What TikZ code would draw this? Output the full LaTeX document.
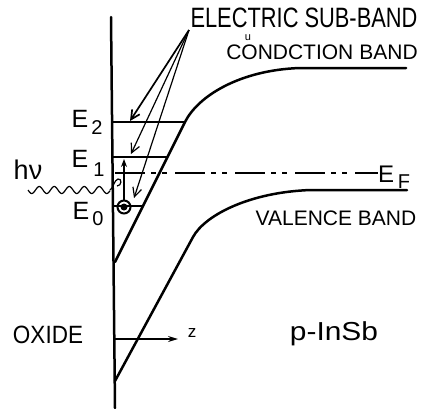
\documentclass[tikz,border=0pt]{standalone}
\usepackage{graphicx}
\usepackage{fontspec}
\setmainfont{Liberation Sans}
\usetikzlibrary{arrows.meta}
\begin{document}
\begin{tikzpicture}[x=1pt,y=-1pt,
  band/.style={line width=2.5pt, line cap=round},
  level/.style={line width=1.9pt},
  thinline/.style={line width=1.2pt},
  barb/.style={-{Straight Barb[length=9pt,width=9pt]}},
  lbl/.style={inner sep=0pt, font=\fontsize{21}{21}\selectfont},
  big/.style={inner sep=0pt, font=\fontsize{25}{25}\selectfont},
  sub/.style={inner sep=0pt, font=\fontsize{20}{20}\selectfont},
]
\useasboundingbox (0,0) rectangle (428,408);

% axis (oxide interface)
\coordinate (axT) at (111,17);
\coordinate (axB) at (115,408);
\draw[band] (axT) -- (axB);

% conduction band
\coordinate (cb0) at (115,262);
\coordinate (cb1) at (185,122);
\coordinate (cb2) at (300,68);
\coordinate (cb3) at (406,68);
\draw[band] (cb0) -- (cb1) .. controls (198,96) and (240,70) .. (cb2) -- (cb3);

% valence band
\coordinate (vb0) at (115,381);
\coordinate (vb1) at (193,237);
\coordinate (vb2) at (311,190);
\coordinate (vb3) at (407,190);
\draw[band] (vb0) -- (vb1) .. controls (205,215) and (250,192) .. (vb2) -- (vb3);

% sub-band levels
\coordinate (e2l) at (113,122); \coordinate (e2r) at (185,122);
\coordinate (e1l) at (113,157); \coordinate (e1r) at (167.5,157);
\coordinate (e0l) at (113,206); \coordinate (e0r) at (143,206);
\draw[level] (e2l) -- (e2r);
\draw[level] (e1l) -- (e1r);
\draw[level] (e0l) -- (e0r);

% Fermi level
\coordinate (ef0) at (115,173);
\coordinate (ef1) at (378,173);
\draw[thinline, dash pattern=on 30pt off 6pt on 5pt off 6pt on 5pt off 8pt] (ef0) -- (ef1);

% electron
\node[circle, draw, line width=2pt, minimum size=13pt, inner sep=0pt] (el) at (124,207) {};
\fill (el.center) circle (3.5pt);
\coordinate (upT) at (124,159);
\draw[thinline, -{Stealth[length=8pt,width=6pt]}] (el.north) -- (upT);

% arrows from label
\coordinate (src) at (189,30);
\coordinate (a2) at (130,121);
\coordinate (a1) at (131,154);
\coordinate (a0) at (134,198);
\draw[line width=1.7pt, barb] (src) -- (a2);
\draw[thinline, barb] (src) -- (a1);
\draw[thinline, barb] (src) -- (a0);

% photon
\draw[thinline] plot[domain=28:110, samples=120, smooth] (\x,{190+3.5*sin((\x-28)*24)});
\coordinate (w1) at (110,190);
\coordinate (w2) at (118,179);
\coordinate (w3) at (117,186);
\draw[thinline] (w1) .. controls (113,189) and (114,180) .. (w2) .. controls (122,178) and (122,186) .. (w3);

% z axis
\coordinate (zs) at (115,339);
\coordinate (ze) at (178,339);
\draw[thinline, -{Stealth[length=10pt,width=6pt]}] (zs) -- (ze);

% labels
\node[inner sep=0pt, font=\fontsize{28}{28}\selectfont] (tEL) at (304,18) {\scalebox{0.78}[1]{ELECTRIC SUB-BAND}};
\node[lbl] (tCB) at (322,52) {CONDCTION\hspace{6pt}BAND};
\node[inner sep=0pt, font=\fontsize{11}{11}\selectfont] (tU) at (248,38) {u};
\node[big] (tE2) at (80,119) {E};
\node[sub] (tE2s) at (97,128) {2};
\node[big] (tE1) at (80,159) {E};
\node[sub] (tE1s) at (99,170) {1};
\node[big] (tE0) at (81,211) {E};
\node[sub] (tE0s) at (98,219) {0};
\node[inner sep=0pt, font=\fontsize{27}{27}\selectfont] (thv) at (28,170) {hν};
\node[inner sep=0pt, font=\fontsize{24}{24}\selectfont] (tEF) at (386,174) {E};
\node[sub] (tEFs) at (404,182) {F};
\node[lbl] (tVB) at (336,218) {VALENCE BAND};
\node[big] (tOX) at (48,335) {\scalebox{0.9}[1]{OXIDE}};
\node[inner sep=0pt, font=\fontsize{26}{26}\selectfont] (tP) at (334,334) {\scalebox{1.15}[1]{p-InSb}};
\node[inner sep=0pt, font=\fontsize{17}{17}\selectfont] (tz) at (192,333) {z};
\end{tikzpicture}
\end{document}
